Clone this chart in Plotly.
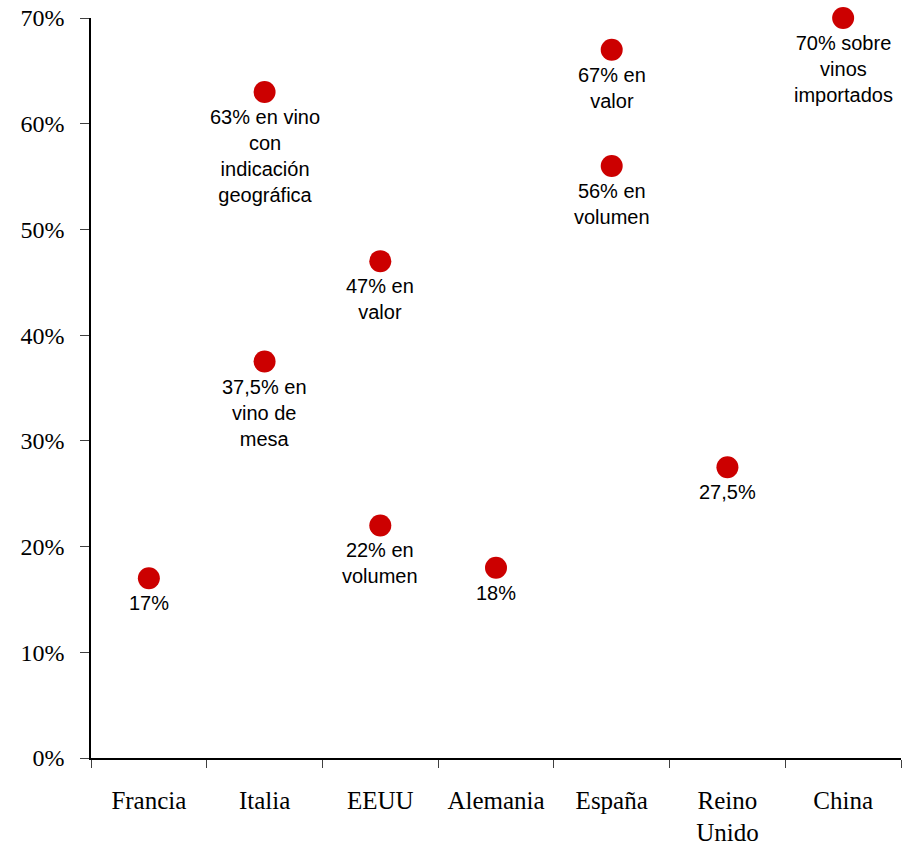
import plotly.graph_objects as go

# Countries on the horizontal axis
countries = ["Francia", "Italia", "EEUU", "Alemania", "España", "Reino Unido", "China"]
country_ticks = ["Francia", "Italia", "EEUU", "Alemania", "España", "Reino<br>Unido", "China"]

# One entry per point: country, share (%) and the label drawn under it
point_country = ["Francia", "Italia", "Italia", "EEUU", "EEUU", "Alemania",
                 "España", "España", "Reino Unido", "China"]
point_value = [17, 63, 37.5, 47, 22, 18, 67, 56, 27.5, 70]
point_label = [
    "17%",
    "63% en vino<br>con<br>indicación<br>geográfica",
    "37,5% en<br>vino de<br>mesa",
    "47% en<br>valor",
    "22% en<br>volumen",
    "18%",
    "67% en<br>valor",
    "56% en<br>volumen",
    "27,5%",
    "70% sobre<br>vinos<br>importados",
]

y_ticks = [0, 10, 20, 30, 40, 50, 60, 70]
y_tick_text = ["0%", "10%", "20%", "30%", "40%", "50%", "60%", "70%"]

fig = go.Figure()
fig.add_trace(go.Scatter(
    x=point_country,
    y=point_value,
    mode="markers",
    marker=dict(size=22, color="#CC0000", line=dict(width=0)),
    cliponaxis=False,
    hoverinfo="skip",
    showlegend=False,
))

for c, v, t in zip(point_country, point_value, point_label):
    fig.add_annotation(
        x=c, y=v, text=t, showarrow=False,
        xanchor="center", yanchor="top", align="center", yshift=-12,
        font=dict(family="Liberation Sans, Arial, sans-serif", size=20, color="#000000"),
    )

fig.update_xaxes(
    type="category",
    categoryorder="array",
    categoryarray=countries,
    tickvals=countries,
    ticktext=country_ticks,
    range=[-0.5, 6.5],
    tickson="boundaries",
    ticks="outside",
    ticklen=8,
    tickcolor="#404040",
    showline=True,
    linecolor="#000000",
    linewidth=1.5,
    showgrid=False,
    zeroline=False,
    automargin=False,
    ticklabelstandoff=19,
    tickfont=dict(family="Liberation Serif, Times New Roman, serif", size=25, color="#000000"),
)
fig.update_yaxes(
    range=[0, 70],
    tickvals=y_ticks,
    ticktext=y_tick_text,
    ticks="outside",
    ticklen=9,
    tickcolor="#404040",
    showline=True,
    linecolor="#000000",
    linewidth=1.5,
    showgrid=False,
    zeroline=False,
    automargin=False,
    ticklabelstandoff=11,
    tickfont=dict(family="Liberation Serif, Times New Roman, serif", size=24, color="#000000"),
)

fig.update_layout(
    width=910,
    height=846,
    margin=dict(l=91, r=9, t=18, b=88),
    plot_bgcolor="#FFFFFF",
    paper_bgcolor="#FFFFFF",
)

fig.write_html("out.html")
